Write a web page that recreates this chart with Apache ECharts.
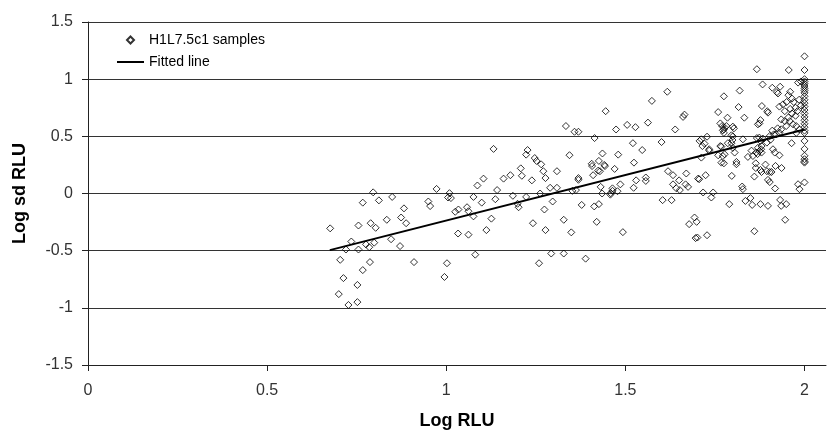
<!DOCTYPE html>
<html>
<head>
<meta charset="utf-8">
<script src="https://cdn.jsdelivr.net/npm/echarts@6/dist/echarts.min.js"></script>
<style>
  html, body { margin: 0; padding: 0; background: #fff; }
  #main { width: 827px; height: 431px; }
</style>
</head>
<body>
<div id="main"></div>
<script>
// samples, [Log RLU, Log sd RLU]
var samplesLow = [
  [0.676,-0.305],[0.796,0.01],[0.767,-0.08],[0.812,-0.06],[0.849,-0.03],[0.973,0.04],[0.950,-0.07],
  [0.955,-0.11],[1.005,-0.035],[0.882,-0.13],[0.874,-0.21],[0.888,-0.26],[0.834,-0.23],[0.789,-0.26],
  [0.803,-0.30],[0.755,-0.28],[0.846,-0.40],[0.871,-0.46],[0.735,-0.42],[0.72,-0.49],[0.755,-0.49],
  [0.776,-0.445],[0.785,-0.47],[0.799,-0.43],[0.704,-0.58],[0.787,-0.60],[0.910,-0.60],[1.002,-0.61],
  [0.767,-0.67],[0.713,-0.74],[0.995,-0.73],[0.752,-0.80],[0.70,-0.88],[0.752,-0.95],[0.727,-0.975]
]
var samplesMid = [
  [1.334,0.59],[1.358,0.54],[1.369,0.54],[1.132,0.39],[1.227,0.38],[1.223,0.34],[1.247,0.31],
  [1.252,0.285],[1.265,0.255],[1.344,0.335],[1.208,0.22],[1.211,0.155],[1.271,0.195],[1.309,0.195],
  [1.277,0.135],[1.239,0.115],[1.104,0.13],[1.087,0.07],[1.16,0.13],[1.179,0.16],[1.142,0.03],
  [1.009,0.003],[1.013,-0.04],[1.076,-0.03],[1.137,-0.05],[1.186,-0.02],[1.223,-0.03],[1.262,0.0],
  [1.290,0.05],[1.309,0.05],[1.099,-0.08],[1.199,-0.09],[1.202,-0.12],[1.297,-0.07],[1.034,-0.14],
  [1.025,-0.16],[1.058,-0.12],[1.062,-0.155],[1.274,-0.14],[1.076,-0.2],[1.126,-0.22],[1.328,-0.23],
  [1.242,-0.26],[1.033,-0.35],[1.062,-0.36],[1.112,-0.32],[1.277,-0.32],[1.349,-0.34],[1.081,-0.535],
  [1.293,-0.525],[1.328,-0.525],[1.259,-0.61],[1.389,-0.57],[1.42,-0.248],[1.493,-0.338],[1.413,-0.113],
  [1.426,-0.093],[1.378,-0.10],[1.445,0.72],[1.474,0.56],[1.414,0.485],[1.436,0.35],[1.48,0.34],
  [1.426,0.285],[1.407,0.24],[1.406,0.26],[1.443,0.24],[1.441,0.25],[1.429,0.195],[1.424,0.20],
  [1.47,0.215],[1.41,0.16],[1.369,0.135],[1.369,0.12],[1.431,0.058],[1.486,0.08],[1.464,0.045],
  [1.464,0.023],[1.352,0.023],[1.362,0.03],[1.435,0.0],[1.458,-0.01],[1.459,0.003],[1.478,0.02]
]
var samplesHigh = [
  [1.617,0.89],[1.574,0.81],[1.665,0.69],[1.661,0.67],[1.505,0.60],[1.528,0.58],[1.563,0.62],
  [1.639,0.56],[1.521,0.44],[1.601,0.45],[1.707,0.46],[1.547,0.38],[1.524,0.27],[1.619,0.195],
  [1.633,0.16],[1.67,0.175],[1.53,0.115],[1.557,0.14],[1.557,0.11],[1.65,0.115],[1.703,0.13],
  [1.523,0.05],[1.633,0.08],[1.642,0.046],[1.652,0.03],[1.668,0.08],[1.675,0.058],[1.717,0.009],
  [1.745,0.009],[1.74,-0.035],[1.604,-0.058],[1.629,-0.058],[1.678,-0.268],[1.693,-0.21],[1.699,-0.248],
  [1.696,-0.39],[1.701,-0.385],[1.728,-0.365],[1.79,-0.093],[1.86,-0.33],[1.877,-0.093],[1.898,-0.108],
  [1.935,-0.108],[1.949,-0.093],[1.946,-0.23],[1.835,-0.065],[1.854,-0.10],[1.932,-0.056],[1.849,-0.04],
  [1.867,1.087],[1.956,1.08],[1.883,0.954],[1.91,0.925],[1.932,0.934],[1.819,0.90],[1.775,0.85],
  [1.923,0.887],[1.926,0.875],[1.96,0.89],[1.955,0.86],[1.965,0.83],[1.97,0.80],[1.985,0.82],
  [1.99,0.77],[1.975,0.75],[1.96,0.74],[1.98,0.72],[1.965,0.70],[1.975,0.68],[1.982,0.97],
  [1.99,0.98],[1.95,0.80],[1.94,0.78],[1.93,0.76],[1.945,0.72],[1.881,0.765],[1.898,0.707],
  [1.896,0.72],[1.816,0.756],[1.759,0.712],[1.832,0.663],[1.785,0.663],[1.877,0.642],[1.874,0.613],
  [1.765,0.613],[1.777,0.576],[1.80,0.585],[1.772,0.552],[1.775,0.561],[1.796,0.509],[1.870,0.605],
  [1.935,0.648],[1.945,0.633],[1.935,0.561],[1.949,0.59],[1.93,0.532],[1.921,0.517],[1.959,0.633],
  [1.968,0.605],[1.977,0.59],[1.977,0.53],[1.986,0.56],[1.903,0.503],[1.914,0.517],[1.712,0.474],
  [1.728,0.497],[1.721,0.436],[1.768,0.41],[1.796,0.44],[1.799,0.468],[1.828,0.474],[1.874,0.489],
  [1.734,0.387],[1.759,0.334],[1.842,0.32],[1.856,0.328],[1.874,0.37],[1.879,0.387],[1.869,0.345],
  [1.912,0.387],[1.917,0.358],[1.93,0.334],[1.706,0.125],[1.724,0.16],[1.775,0.264],[1.797,0.154],
  [1.81,0.276],[1.81,0.256],[1.864,0.264],[1.864,0.223],[1.86,0.148],[1.877,0.206],[1.88,0.188],
  [1.891,0.253],[1.895,0.195],[1.903,0.188],[1.908,0.188],[1.919,0.241],[1.936,0.223],[1.898,0.119],
  [1.903,0.10],[1.918,0.044],[1.826,0.061],[1.828,0.038],[1.982,0.081],[1.986,0.038],[1.867,0.485],
  [1.877,0.459],[1.884,0.48],[1.91,0.55],[1.925,0.57],[1.955,0.665],[1.964,0.44],[1.852,0.375],
  [1.865,0.358],[1.87,0.40],[1.88,0.358],[1.80,0.40],[1.786,0.44],[1.805,0.358],[1.772,0.328],
  [1.768,0.27],[1.77,0.59],[1.782,0.59],[1.775,0.53],[1.803,0.57],[1.80,0.50],[1.715,0.415],
  [1.712,0.314],[1.734,0.375],[1.777,0.343],[1.765,0.415],[1.88,0.415],[1.895,0.445],[1.905,0.47]
]
// the column of samples sitting at Log RLU = 2
var edgeY = [1.2,1.08,1.0,0.98,0.96,0.94,0.92,0.90,0.88,0.85,0.82,0.79,0.76,0.73,0.70,0.67,0.64,
  0.61,0.58,0.55,0.53,0.46,0.39,0.33,0.30,0.28,0.27,0.097]
var edgeX = 2.0

// fitted line end points
var fitX = [0.675, 2.0]
var fitY = [-0.495, 0.56]

var samples = samplesLow.concat(samplesMid, samplesHigh)
for (var i = 0; i < edgeY.length; i++) {
  samples.push([edgeX, edgeY[i]])
}
var fitted = []
for (var j = 0; j < fitX.length; j++) {
  fitted.push([fitX[j], fitY[j]])
}

var myChart = echarts.init(document.getElementById('main'))
var font = 'Arial, "Liberation Sans", sans-serif'
var option = {
  backgroundColor: '#fff',
  animation: false,
  grid: { left: 88, top: 22, right: 1, bottom: 66, outerBoundsMode: 'none' },
  legend: {
    left: 112, top: 28, orient: 'vertical',
    itemWidth: 27, itemHeight: 7, itemGap: 8,
    textStyle: { fontFamily: font, fontSize: 14, color: '#000' },
    data: [
      { name: 'H1L7.5c1 samples', icon: 'path://M5,0L10,5L5,10L0,5Z' },
      { name: 'Fitted line', icon: 'path://M0,0H27V2H0Z' }
    ]
  },
  xAxis: {
    type: 'value', min: 0, max: 2.06, interval: 0.5,
    name: 'Log RLU', nameLocation: 'middle', nameGap: 47,
    nameTextStyle: { fontFamily: font, fontSize: 18, fontWeight: 'bold', color: '#000' },
    axisLine: { onZero: false, lineStyle: { color: '#222', width: 1 } },
    axisTick: { length: 6, lineStyle: { color: '#222' } },
    axisLabel: { margin: 18, fontFamily: font, fontSize: 16, color: '#333', showMaxLabel: false },
    splitLine: { show: false }
  },
  yAxis: {
    type: 'value', min: -1.5, max: 1.5, interval: 0.5,
    name: 'Log sd RLU', nameLocation: 'middle', nameGap: 59,
    nameTextStyle: { fontFamily: font, fontSize: 18, fontWeight: 'bold', color: '#000' },
    axisLine: { show: true, onZero: false, lineStyle: { color: '#222', width: 1 } },
    axisTick: { show: true, length: 6, lineStyle: { color: '#222' } },
    axisLabel: { margin: 15, fontFamily: font, fontSize: 16, color: '#333' },
    splitLine: { show: true, lineStyle: { color: '#333', width: 1 } }
  },
  series: [
    {
      name: 'H1L7.5c1 samples',
      type: 'scatter',
      symbol: 'diamond',
      symbolSize: 7,
      itemStyle: { color: 'rgba(255,255,255,0)', borderColor: '#000', borderWidth: 1 },
      data: samples
    },
    {
      name: 'Fitted line',
      type: 'line',
      symbol: 'none',
      lineStyle: { color: '#000', width: 2 },
      itemStyle: { color: '#000' },
      data: fitted
    }
  ]
}
myChart.setOption(option)
</script>
</body>
</html>
